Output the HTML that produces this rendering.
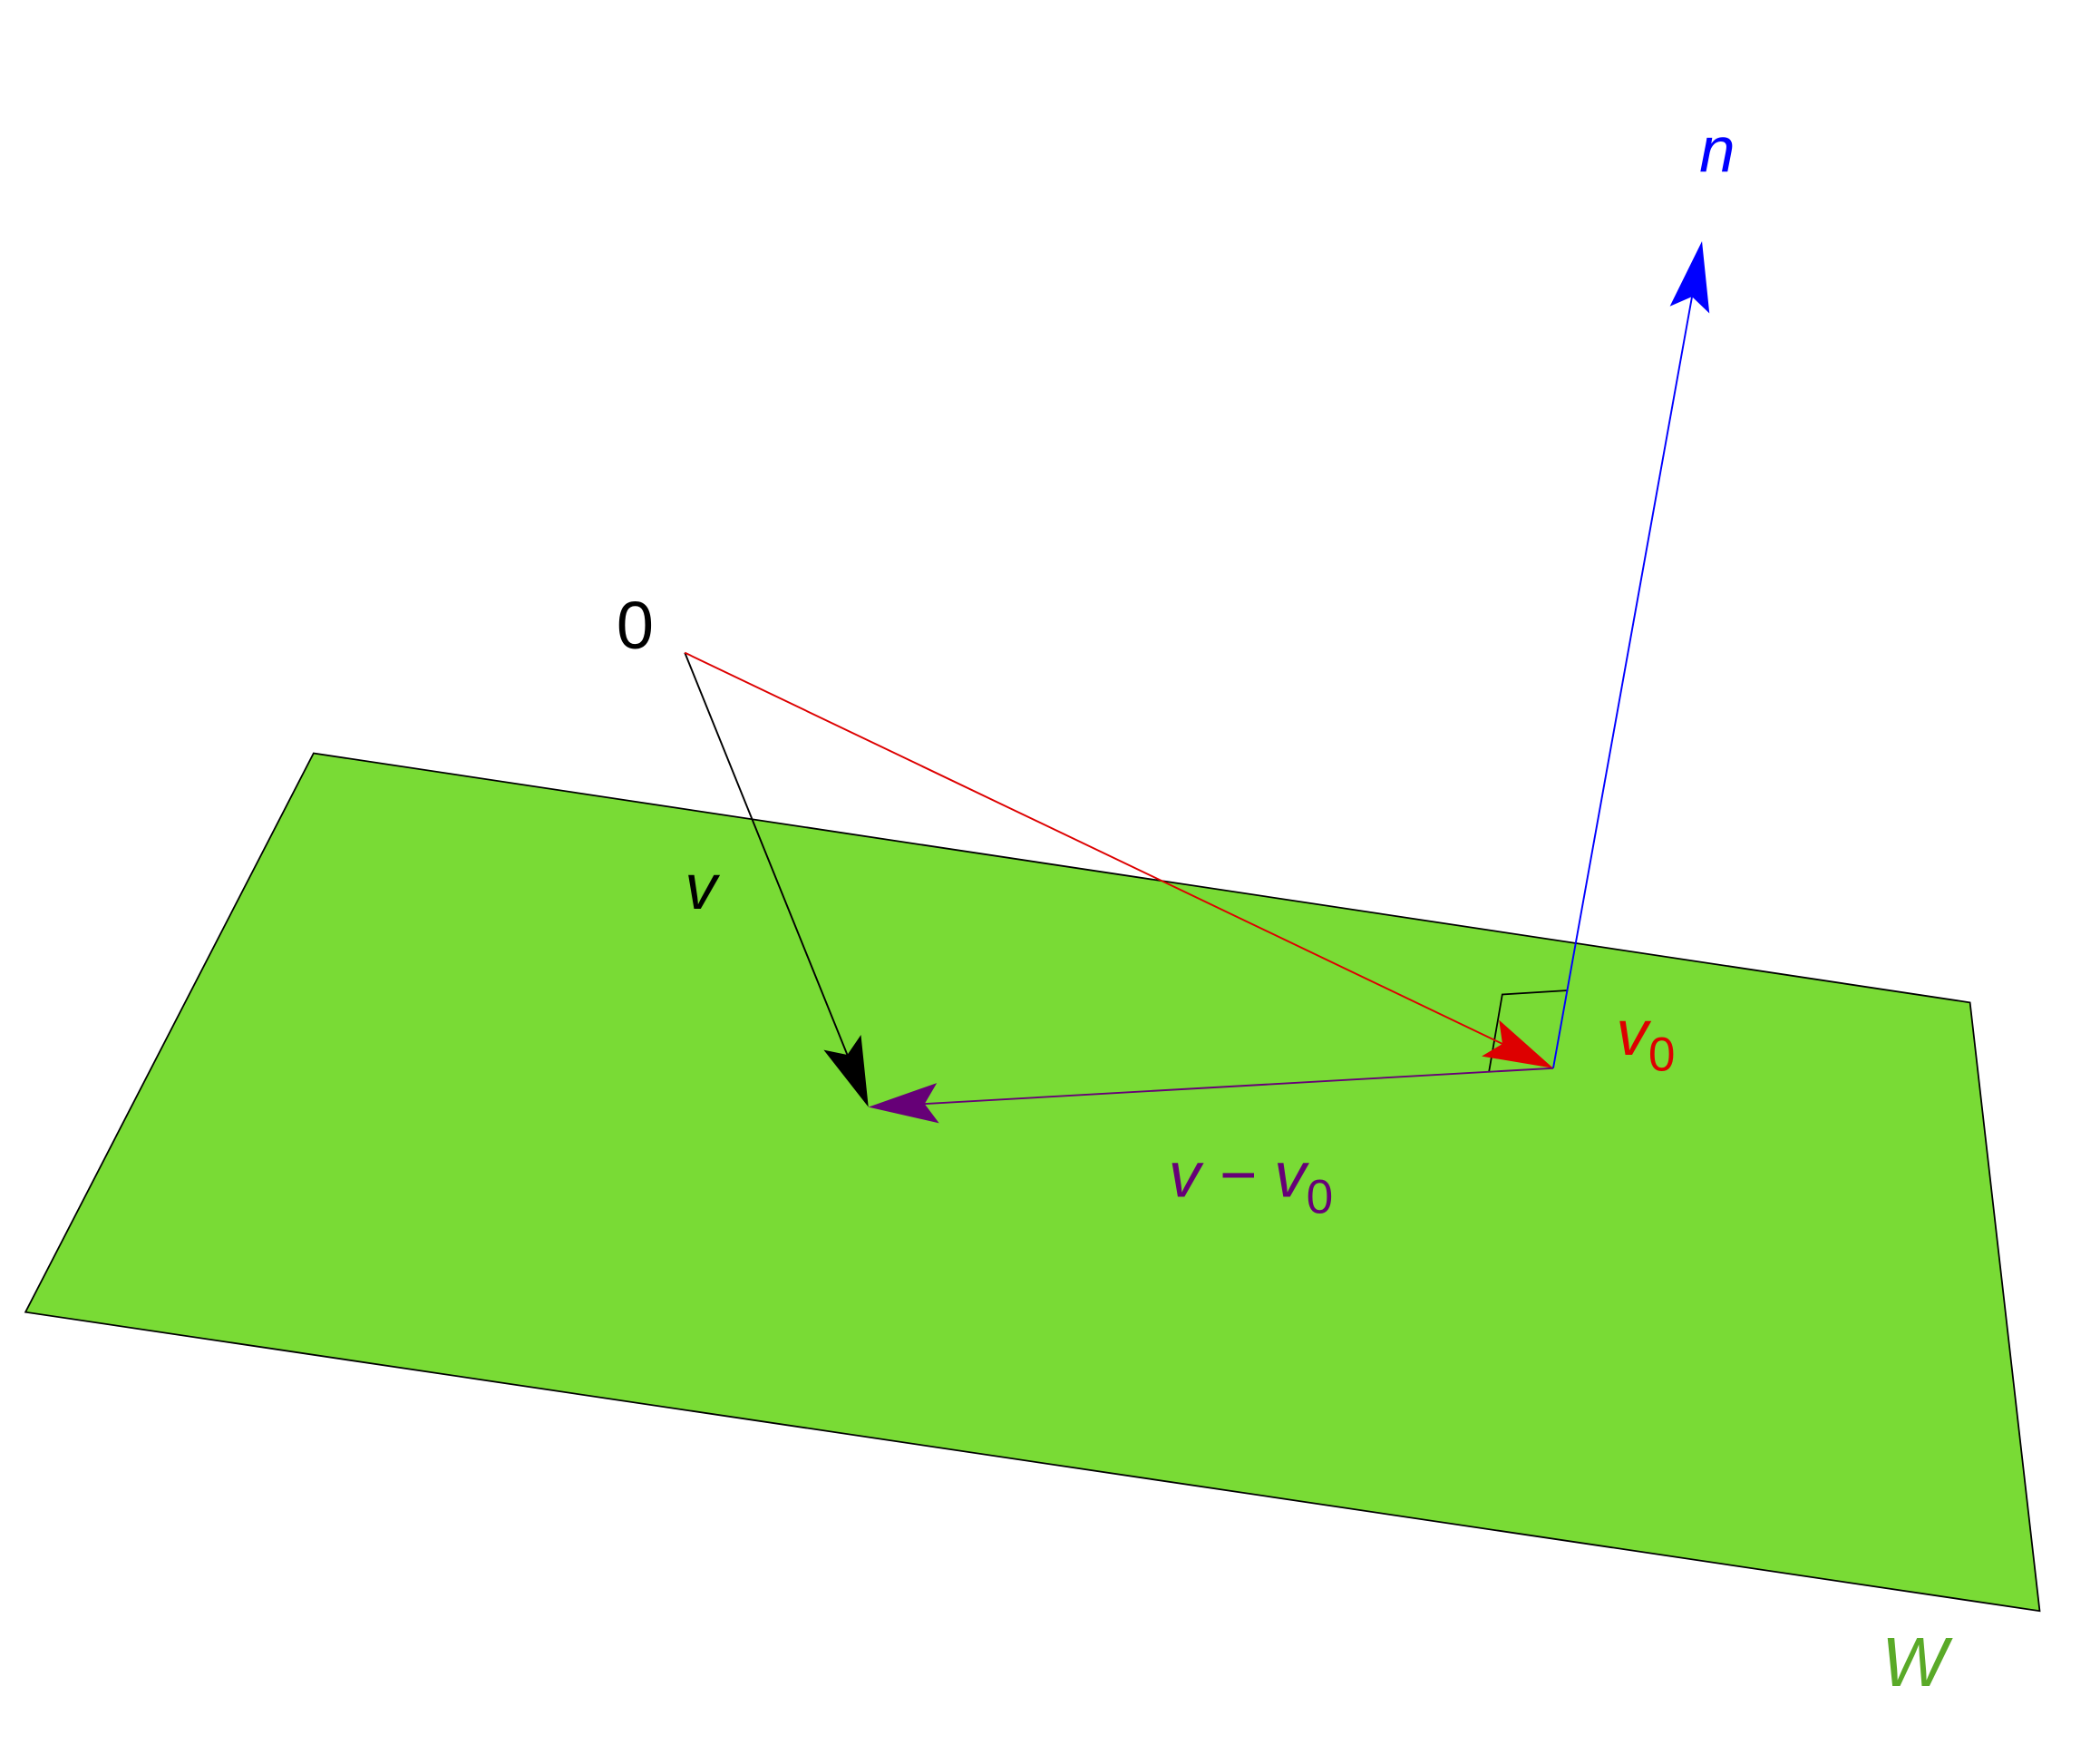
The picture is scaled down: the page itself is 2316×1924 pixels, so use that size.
<!DOCTYPE html>
<html><head><meta charset="utf-8"><style>
html,body{margin:0;padding:0;background:#fff;}
svg{display:block;}
text{font-family:"Liberation Sans",sans-serif;}
</style></head><body>
<svg id="fig" width="2316" height="1924" viewBox="0 0 1567 1302" preserveAspectRatio="none" xmlns="http://www.w3.org/2000/svg">
<polygon points="234,562 1470,748 1522,1202 19,979" fill="#79db35" stroke="#000" stroke-width="1.2"/>
<polyline points="1111,800 1121,742 1170,739" fill="none" stroke="#000" stroke-width="1.2"/>
<g id="arrows"></g>
<text x="460" y="484" font-size="50" fill="#000">0</text>
<text x="511" y="678" font-size="48" font-style="italic" fill="#000">v</text>
<text x="1206" y="787" font-size="48" font-style="italic" fill="#dd0000">v<tspan font-style="normal" font-size="36" dy="12">0</tspan></text>
<text x="1268" y="128" font-size="48" font-style="italic" fill="#0000ff">n</text>
<text x="872" y="893" font-size="48" font-style="italic" fill="#660077">v − v<tspan font-style="normal" font-size="36" dy="12">0</tspan></text>
<text x="1404" y="1258" font-size="52" font-style="italic" fill="#5aaa28">W</text>
</svg>
<script>
const vectorNames = ['v', 'v0', 'n', 'v-minus-v0'];
const startX = [511, 511, 1159, 1159];
const startY = [487, 487, 797, 797];
const endX = [648, 1159, 1270, 648];
const endY = [826, 797, 180, 826];
const colors = ['#000000', '#dd0000', '#0000ff', '#660077'];
const g = document.getElementById('arrows');
const NS = 'http://www.w3.org/2000/svg';
for (let i = 0; i < vectorNames.length; i++) {
  const x1 = startX[i], y1 = startY[i], x2 = endX[i], y2 = endY[i];
  const dx = x2 - x1, dy = y2 - y1, L = Math.hypot(dx, dy);
  const ux = dx / L, uy = dy / L, px = -uy, py = ux;
  const hl = 52, hw = 15, notch = 10;
  const line = document.createElementNS(NS, 'line');
  
  
  line.setAttribute('x1', x1); line.setAttribute('y1', y1);
  line.setAttribute('x2', x2 - ux * hl * 0.7); line.setAttribute('y2', y2 - uy * hl * 0.7);
  line.setAttribute('stroke', colors[i]); line.setAttribute('stroke-width', 1.3);
  g.appendChild(line);
  const bx = x2 - ux * hl, by = y2 - uy * hl;
  const nx = x2 - ux * (hl - notch), ny = y2 - uy * (hl - notch);
  const head = document.createElementNS(NS, 'polygon');
  
  
  head.setAttribute('points', [x2, y2, bx + px * hw, by + py * hw, nx, ny, bx - px * hw, by - py * hw].join(','));
  head.setAttribute('fill', colors[i]);
  g.appendChild(head);
}
</script>
</body></html>
